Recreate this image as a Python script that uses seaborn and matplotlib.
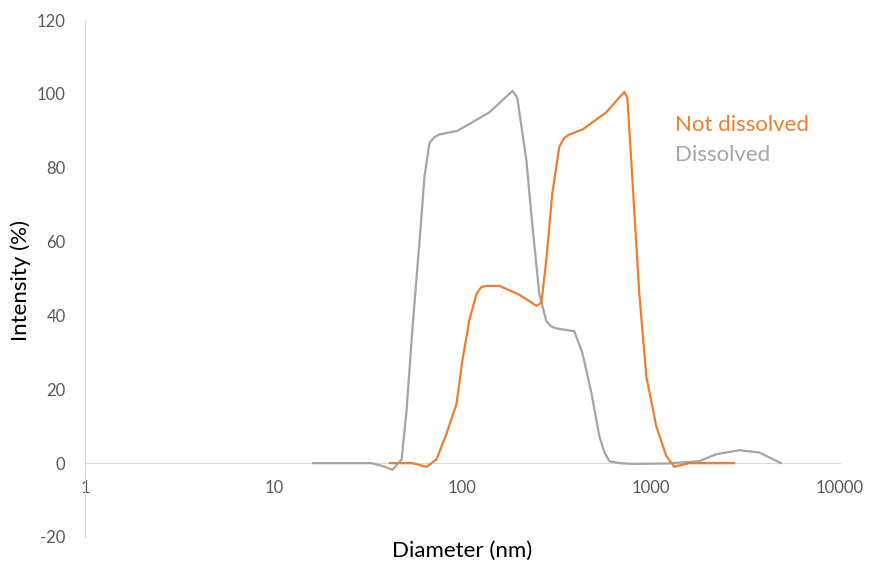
import numpy as np
import pandas as pd
import matplotlib
matplotlib.use("Agg")
import matplotlib.pyplot as plt
from matplotlib.ticker import FixedLocator, FixedFormatter
import seaborn as sns

# ================= DATA =================
dissolved_d = [16.1, 33.0, 37.7, 42.6, 47.6, 50.6, 54.4, 59.2, 62.9, 66.9,
               71.0, 75.5, 94.1, 139, 167, 184, 195, 218, 235, 255,
               278, 295, 314, 391, 431, 482, 531, 564, 600, 680,
               793, 1200, 1794, 2207, 2923, 3727, 4876]
dissolved_i = [0, 0, -0.8, -1.8, 1.0, 14.6, 37, 60, 77.6, 86.8,
               88.3, 89, 90, 95, 98.8, 100.8, 99, 82, 64, 46,
               38.5, 37, 36.5, 35.7, 30, 19, 7.3, 3, 0.5, 0,
               -0.2, -0.1, 0.5, 2.4, 3.5, 2.9, 0]

notdiss_d = [41.1, 54.4, 59.0, 64.5, 72.8, 82.3, 92.9, 100, 109, 119,
             126, 134, 157, 200, 247, 262, 278, 299, 326, 345,
             368, 431, 578, 677, 720, 747, 793, 864, 942, 1063,
             1200, 1324, 1442, 1589, 2750]
notdiss_i = [0, 0, -0.5, -1, 1, 8, 16, 28, 39, 46,
             47.7, 48, 48, 45.6, 42.6, 43.5, 55, 73, 85.7, 88,
             89, 90.3, 95, 99, 100.5, 99, 77.6, 46, 23.5, 10,
             2, -1, -0.5, 0, 0]

x_ticks = [1, 10, 100, 1000, 10000]
x_tick_labels = ["1", "10", "100", "1000", "10000"]
y_ticks = [-20, 0, 20, 40, 60, 80, 100, 120]

ORANGE = "#ED7D31"
GRAY = "#A5A5A5"

# ================= PLOT =================
sns.set_style("white")
plt.rcParams['font.family'] = ['Lato', 'DejaVu Sans']
plt.rcParams['axes.unicode_minus'] = False

fig = plt.figure(figsize=(8.7, 5.7), dpi=100)
ax = fig.add_axes([0.0977, 0.0579, 0.8678, 0.9070])

sns.lineplot(x=dissolved_d, y=dissolved_i, ax=ax, color=GRAY, linewidth=1.6, sort=False)
sns.lineplot(x=notdiss_d, y=notdiss_i, ax=ax, color=ORANGE, linewidth=1.6, sort=False)

ax.set_xscale("log")
ax.set_xlim(1, 10000)
ax.set_ylim(-20, 120)

ax.xaxis.set_major_locator(FixedLocator(x_ticks))
ax.xaxis.set_major_formatter(FixedFormatter(x_tick_labels))
ax.xaxis.set_minor_locator(FixedLocator([]))
ax.set_yticks(y_ticks)

for s in ["top", "right"]:
    ax.spines[s].set_visible(False)
ax.spines["left"].set_color("#D9D9D9")
ax.spines["bottom"].set_position(("data", 0))
ax.spines["bottom"].set_color("#D9D9D9")
ax.spines["bottom"].set_zorder(0)

ax.tick_params(axis="both", length=0, labelsize=12, labelcolor="#595959")
ax.tick_params(axis="x", pad=12)
ax.tick_params(axis="y", pad=14)

ax.set_xlabel("Diameter (nm)", fontsize=16, color="black")
ax.set_ylabel("Intensity (%)", fontsize=16, color="black")
ax.xaxis.set_label_coords(0.5, -0.008)
ax.yaxis.set_label_coords(-0.072, 0.497)

# text labels standing in for the legend
ax.text(0.782, 0.797, "Not dissolved", transform=ax.transAxes, color=ORANGE,
        fontsize=16, va="center", ha="left")
ax.text(0.782, 0.739, "Dissolved", transform=ax.transAxes, color=GRAY,
        fontsize=16, va="center", ha="left")

fig.savefig("out.png", dpi=100)
plt.close(fig)
